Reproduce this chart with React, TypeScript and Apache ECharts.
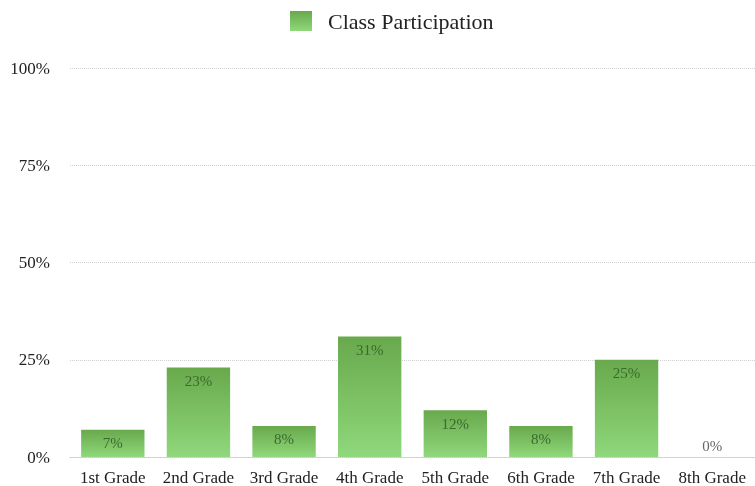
import React, { useEffect, useRef } from "react";
import * as echarts from "echarts";

const categories = ["1st Grade", "2nd Grade", "3rd Grade", "4th Grade", "5th Grade", "6th Grade", "7th Grade", "8th Grade"];
const values = [7, 23, 8, 31, 12, 8, 25, 0];
const seriesName = "Class Participation";

const FONT = "'Liberation Serif', 'DejaVu Serif', serif";

export default function App() {
  const ref = useRef<HTMLDivElement>(null);
  useEffect(() => {
    if (!ref.current) return;
    const chart = echarts.init(ref.current, undefined, { renderer: "svg" });
    const grad = new echarts.graphic.LinearGradient(0, 0, 0, 1, [
      { offset: 0, color: "#68a94c" },
      { offset: 1, color: "#8fd87b" },
    ]);
    chart.setOption({
      animation: false,
      textStyle: { fontFamily: FONT },
      legend: {
        top: 5,
        left: 285,
        itemWidth: 22,
        itemHeight: 20,
        itemGap: 16,
        icon: "rect",
        textStyle: { fontFamily: FONT, fontSize: 22, color: "#222", padding: [0, 0, 0, 11] },
        data: [seriesName],
      },
      grid: { left: 70, right: 0, top: 68, bottom: 25, containLabel: false },
      xAxis: {
        type: "category",
        data: categories,
        axisLine: { show: true, lineStyle: { color: "#c8c8c8", type: "dotted" } },
        axisTick: { show: false },
        axisLabel: { fontFamily: FONT, fontSize: 17, color: "#222", margin: 12, interval: 0 },
      },
      yAxis: {
        type: "value",
        min: 0,
        max: 100,
        interval: 25,
        axisLine: { show: false },
        axisTick: { show: false },
        axisLabel: { fontFamily: FONT, fontSize: 17, color: "#222", formatter: "{value}%", margin: 20 },
        splitLine: { lineStyle: { color: "#cfcfcf", type: "dotted" } },
      },
      series: [
        {
          name: seriesName,
          type: "bar",
          barCategoryGap: "26%",
          itemStyle: { color: grad },
          label: {
            show: true,
            position: "insideTop",
            distance: 6,
            formatter: "{c}%",
            fontFamily: FONT,
            fontSize: 15,
            color: "#3b6a2e",
          },
          data: values.map((v) =>
            v === 0
              ? { value: v, label: { position: "top", distance: 4, color: "#666" } }
              : v
          ),
        },
      ],
    });
    return () => chart.dispose();
  }, []);
  return <div ref={ref} style={{ position: "fixed", left: 0, top: 0, width: 755, height: 486 }} />;
}
